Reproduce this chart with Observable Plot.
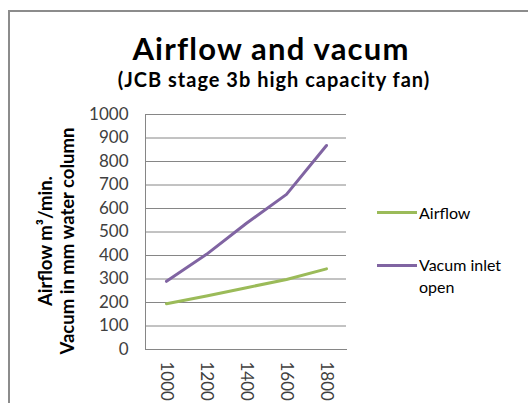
<!DOCTYPE html>
<html>
<head>
<meta charset="utf-8">
<script src="https://cdn.jsdelivr.net/npm/d3@7"></script>
<script src="https://cdn.jsdelivr.net/npm/@observablehq/plot@0.6"></script>
<style>
  html, body { margin: 0; padding: 0; background: #fff; overflow: hidden; }
  #wrap { position: relative; width: 528px; height: 403px; font-family: Lato, "Open Sans", sans-serif; color: #000; }
  #frame { position: absolute; left: 8px; top: 10px; width: 600px; height: 500px; border-left: 2px solid #8c8c8c; border-top: 2px solid #8c8c8c; }
  #title { position: absolute; left: 0; width: 542px; top: 30px; text-align: center; font-weight: 700; font-size: 31px; line-height: 36px; letter-spacing: 1.2px; white-space: nowrap; }
  #subtitle { position: absolute; left: 0; width: 548px; top: 67px; text-align: center; font-weight: 700; font-size: 20px; line-height: 24px; letter-spacing: 1px; white-space: nowrap; }
  #ytitle { position: absolute; left: 56px; top: 241px; transform: translate(-50%, -50%) rotate(-90deg); text-align: center; font-weight: 700; font-size: 18.5px; line-height: 22px; white-space: nowrap; }
  #chart { position: absolute; left: 0; top: 0; }
  .leg { position: absolute; font-size: 16px; line-height: 22px; }
  .sw { position: absolute; width: 40px; height: 3px; }
</style>
</head>
<body>
<div id="wrap">
  <div id="frame"></div>
  <div id="chart"></div>
  <div id="title">Airflow and vacum</div>
  <div id="subtitle">(JCB stage 3b high capacity fan)</div>
  <div id="ytitle">Airflow m³/min.<br>Vacum in mm water column</div>
  <div id="legend"></div>
</div>
<script>
const categories = ["1000", "1200", "1400", "1600", "1800"];
const airflow = [195, 228, 263, 298, 343];
const vacum = [290, 405, 537, 660, 868];
const seriesNames = ["Airflow", "Vacum inlet open"];
const seriesColors = ["#9bbb59", "#8064a2"];
const yTicks = [0, 100, 200, 300, 400, 500, 600, 700, 800, 900, 1000];

const rows = [];
categories.forEach((c, i) => {
  rows.push({x: c, y: airflow[i], s: seriesNames[0]});
  rows.push({x: c, y: vacum[i], s: seriesNames[1]});
});

const plot = Plot.plot({
  width: 528,
  height: 403,
  marginLeft: 145,
  marginRight: 182,
  marginTop: 114,
  marginBottom: 54,
  style: {fontFamily: "Lato, 'Open Sans', sans-serif", fontSize: "17px", background: "transparent", color: "#404040"},
  x: {type: "point", domain: categories, padding: 0.5},
  y: {domain: [0, 1000]},
  color: {domain: seriesNames, range: seriesColors},
  marks: [
    Plot.gridY(yTicks, {stroke: "#868686", strokeOpacity: 1, strokeWidth: 1}),
    Plot.frame({anchor: "left", stroke: "#868686"}),
    Plot.frame({anchor: "bottom", stroke: "#868686"}),
    Plot.axisY(yTicks, {tickSize: 0, tickPadding: 17, fill: "#404040", label: null, tickFormat: d => String(d)}),
    Plot.axisX({tickSize: 0, tickPadding: 12, tickRotate: 90, fill: "#404040", label: null}),
    Plot.line(rows, {x: "x", y: "y", z: "s", stroke: "s", strokeWidth: 3})
  ]
});
document.getElementById("chart").appendChild(plot);

const legend = document.getElementById("legend");
const legPos = [{top: 202, swTop: 211}, {top: 254, swTop: 264}];
const legLabels = [["Airflow"], ["Vacum inlet", "open"]];
seriesNames.forEach((n, i) => {
  const sw = document.createElement("div");
  sw.className = "sw";
  sw.style.left = "377px";
  sw.style.top = legPos[i].swTop + "px";
  sw.style.background = seriesColors[i];
  legend.appendChild(sw);
  const t = document.createElement("div");
  t.className = "leg";
  t.style.left = "419px";
  t.style.top = legPos[i].top + "px";
  t.innerHTML = legLabels[i].join("<br>");
  legend.appendChild(t);
});
</script>
</body>
</html>
